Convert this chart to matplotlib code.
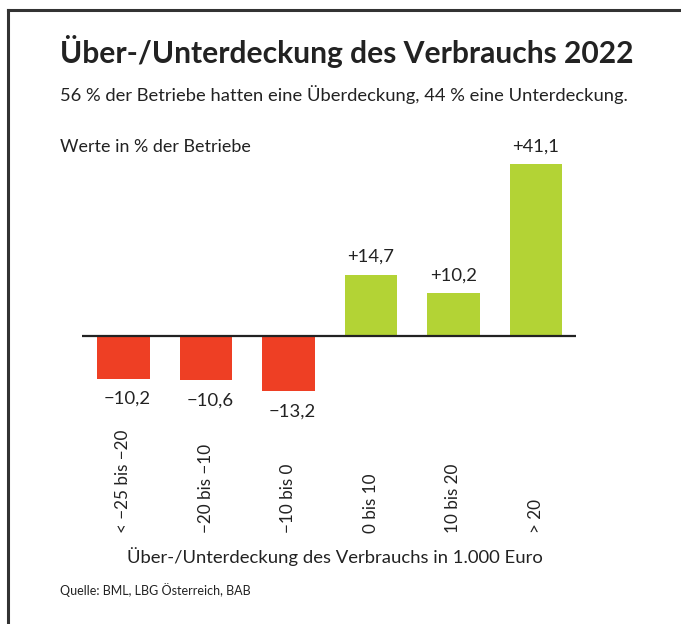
import matplotlib
matplotlib.use("Agg")
import matplotlib.pyplot as plt
from matplotlib.lines import Line2D

plt.rcParams['font.family'] = ['Lato', 'DejaVu Sans']

categories = ["< \u221225 bis \u221220", "\u221220 bis \u221210", "\u221210 bis 0", "0 bis 10", "10 bis 20", "> 20"]
values = [-10.2, -10.6, -13.2, 14.7, 10.2, 41.1]
labels = ["\u221210,2", "\u221210,6", "\u221213,2", "+14,7", "+10,2", "+41,1"]

red = "#EE3F24"
green = "#B3D335"
dark = "#222222"

W, H = 681, 624
fig = plt.figure(figsize=(W / 100, H / 100), dpi=100)

def fx(px):
    return px / W

def fy(py):
    return 1 - py / H

# axes spans pixel x 82..576, y 130..420 (zero line at y=336)
ax = fig.add_axes([fx(82), fy(420), fx(576) - fx(82), fy(130) - fy(420)])
scale = 4.18
ax.set_xlim(-0.503, 5.485)
ax.set_ylim(-(420 - 336) / scale, (336 - 130) / scale)
ax.axis('off')

cols = [red if v < 0 else green for v in values]
ax.bar(range(len(values)), values, width=0.64, color=cols, zorder=2)
ax.axhline(0, color=dark, lw=1.6, zorder=3)

for i, (v, lab) in enumerate(zip(values, labels)):
    if v >= 0:
        ax.text(i, v + 2.3, lab, ha='center', va='bottom', fontsize=13.3, color=dark)
    else:
        ax.text(i + 0.05, v - 2.9, lab, ha='center', va='top', fontsize=13.3, color=dark)
    ax.text(i, -(533 - 336) / scale, categories[i], rotation=90, ha='center', va='bottom',
            fontsize=12.3, color=dark, clip_on=False)

fig.text(fx(60), fy(51), "Über-/Unterdeckung des Verbrauchs 2022", fontsize=21.6,
         fontweight='bold', color=dark, va='center', ha='left')
fig.text(fx(60), fy(95), "56 % der Betriebe hatten eine Überdeckung, 44 % eine Unterdeckung.",
         fontsize=13.2, color=dark, va='center', ha='left')
fig.text(fx(60), fy(147), "Werte in % der Betriebe", fontsize=12.9, color=dark, va='center', ha='left')
fig.text(fx(335), fy(557), "Über-/Unterdeckung des Verbrauchs in 1.000 Euro", fontsize=13.3,
         color=dark, va='center', ha='center')
fig.text(fx(60), fy(590), "Quelle: BML, LBG Österreich, BAB", fontsize=9, color=dark,
         va='center', ha='left')

# frame lines
fig.add_artist(Line2D([fx(8), fx(8)], [fy(10), 0], color="#333333", lw=2.2))
fig.add_artist(Line2D([fx(8), 1], [fy(10), fy(10)], color="#333333", lw=2.2))

fig.savefig("out.png", dpi=100)
